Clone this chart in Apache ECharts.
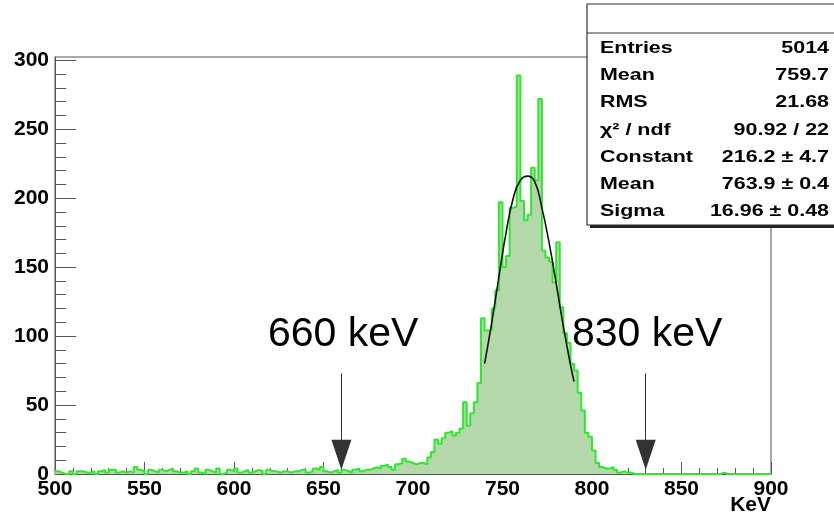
<!DOCTYPE html>
<html>
<head>
<meta charset="utf-8">
<script src="https://cdn.jsdelivr.net/npm/echarts@6/dist/echarts.min.js"></script>
<style>
  html, body { margin: 0; padding: 0; background: #fff; }
  #chart { width: 834px; height: 519px; }
</style>
</head>
<body>
<div id="chart"></div>
<script>
// histogram: 2 keV bins from 500 to 900 keV
var binStart = 500, binWidth = 2;
var counts = [
  2,1,0,0,2,0,2,2,1,1,      // 500
  2,0,2,3,1,3,3,1,2,1,      // 520
  2,1,5,3,2,0,3,2,1,3,      // 540
  2,3,4,2,1,1,2,0,2,4,      // 560
  1,0,3,2,1,4,0,1,3,2,      // 580
  4,1,2,3,1,2,3,2,0,3,      // 600
  2,2,1,2,2,1,2,2,3,3,      // 620
  1,2,4,3,5,2,1,2,3,1,      // 640
  3,2,1,3,4,2,3,3,4,5,      // 660
  4,6,7,5,3,7,8,11,9,8,     // 680
  7,8,8,7,12,16,25,22,26,30,       // 700
  31,28,30,33,52,35,44,52,66,113,  // 720
  104,104,120,133,197,150,158,193,194,289, // 740
  198,184,188,222,213,272,162,157,154,139, // 760
  168,121,102,95,80,75,59,46,30,27,        // 780
  17,8,5,4,4,5,3,1,2,1,     // 800
  1,0,0,0,0,0,0,0,0,0,      // 820
  0,0,0,0,0,0,0,0,0,0,      // 840
  0,0,0,0,0,0,1,0,0,0,      // 860
  0,0,0,0,0,0,0,0,0,0       // 880
];
// gaussian fit curve
var fitX = [740, 744, 748, 752, 756, 760, 764, 768, 772, 776, 780, 784, 788, 790];
var fitY = [80, 110, 143, 175, 200, 213, 216, 212, 193, 168, 138, 107, 79, 67];
// arrows
var arrowKeV = [660, 830];
var arrowText = ['660 keV', '830 keV'];
// axis ticks
var yMajor = [0, 50, 100, 150, 200, 250, 300];
var yMinor = [10,20,30,40,60,70,80,90,110,120,130,140,160,170,180,190,210,220,230,240,260,270,280,290];
var yTop = 302.4;
// stats box
var statNames = ['Entries', 'Mean', 'RMS', 'χ² / ndf', 'Constant', 'Mean', 'Sigma'];
var statValues = ['5014', '759.7', '21.68', '90.92 / 22', '216.2 ± 4.7', '763.9 ± 0.4', '16.96 ± 0.48'];

var histData = [];
for (var i = 0; i < counts.length; i++) {
  histData.push([binStart + i * binWidth, counts[i]]);
}
histData.push([binStart + counts.length * binWidth, counts[counts.length - 1]]);

var fitData = fitX.map(function (x, i) { return [x, fitY[i]]; });

var font = '"Liberation Sans", Arial, Helvetica, sans-serif';

var arrowLines = arrowKeV.map(function (k) {
  return [{ coord: [k, 73] }, { coord: [k, 14] }];
});

var graphics = [];
// stats box
var boxX = 587, boxY = 4, boxW = 260, boxH = 221;
graphics.push({ type: 'rect', z: 100, shape: { x: boxX + 3, y: boxY + 3, width: boxW, height: boxH }, style: { fill: '#222' } });
graphics.push({ type: 'rect', z: 101, shape: { x: boxX, y: boxY, width: boxW, height: boxH }, style: { fill: '#fff', stroke: '#333', lineWidth: 1.2 } });
graphics.push({ type: 'line', z: 102, shape: { x1: boxX, y1: 33, x2: 834, y2: 33 }, style: { stroke: '#333', lineWidth: 1.2 } });
for (var r = 0; r < statNames.length; r++) {
  var cy = 48.5 + r * 27.2;
  graphics.push({ type: 'text', z: 103, x: 600, y: cy, scaleX: 1.3,
    style: { text: statNames[r], fill: '#000', font: 'bold 16.5px ' + font, textAlign: 'left', textVerticalAlign: 'middle' } });
  graphics.push({ type: 'text', z: 103, x: 829, y: cy, scaleX: 1.3,
    style: { text: statValues[r], fill: '#000', font: 'bold 16.5px ' + font, textAlign: 'right', textVerticalAlign: 'middle' } });
}
// big annotations
graphics.push({ type: 'text', z: 90, x: 268, y: 335, style: { text: arrowText[0], fill: '#000', font: '41px ' + font, textVerticalAlign: 'middle' } });
graphics.push({ type: 'text', z: 90, x: 572, y: 335, style: { text: arrowText[1], fill: '#000', font: '41px ' + font, textVerticalAlign: 'middle' } });
// axis title
graphics.push({ type: 'text', z: 90, x: 771, y: 505, style: { text: 'KeV', fill: '#000', font: 'bold 21px ' + font, textAlign: 'right', textVerticalAlign: 'middle' } });

var option = {
  animation: false,
  backgroundColor: '#fff',
  grid: { left: 55, right: 63, top: 57, bottom: 45, show: true, borderColor: '#555', borderWidth: 1, backgroundColor: 'transparent' },
  xAxis: {
    type: 'value', min: 500, max: 900, interval: 50,
    axisLine: { lineStyle: { color: '#555', width: 1 } },
    axisTick: { inside: true, length: 12, lineStyle: { color: '#555' } },
    minorTick: { show: true, splitNumber: 5, length: 6, lineStyle: { color: '#555' } },
    splitLine: { show: false },
    axisLabel: { color: '#000', fontFamily: font, fontWeight: 'bold', fontSize: 21, margin: 5 }
  },
  yAxis: [{
    type: 'value', min: 0, max: yTop, position: 'left',
    axisLine: { show: true, lineStyle: { color: '#555', width: 1 } },
    axisTick: { inside: true, length: 21, customValues: yMajor, lineStyle: { color: '#555' } },
    splitLine: { show: false },
    axisLabel: { customValues: yMajor, color: '#000', fontFamily: font, fontWeight: 'bold', fontSize: 21, margin: 6 }
  }, {
    type: 'value', min: 0, max: yTop, position: 'left', offset: 0,
    axisLine: { show: false },
    axisTick: { show: true, inside: true, length: 11, customValues: yMinor, lineStyle: { color: '#555' } },
    splitLine: { show: false },
    axisLabel: { show: false }
  }],
  series: [{
    name: 'hist', type: 'line', step: 'end', data: histData,
    showSymbol: false, silent: true,
    lineStyle: { color: '#2ee82e', width: 2 },
    areaStyle: { color: '#b4d8a9', opacity: 1 },
    z: 2
  }, {
    name: 'fit', type: 'line', data: fitData, smooth: true,
    showSymbol: false, silent: true,
    lineStyle: { color: '#111', width: 1.6 },
    z: 3,
    markLine: {
      silent: true, animation: false,
      symbol: ['none', 'triangle'], symbolSize: [20, 30],
      label: { show: false },
      lineStyle: { color: '#333', width: 1, type: 'solid' },
      itemStyle: { color: '#000' },
      data: arrowLines
    }
  }],
  graphic: graphics
};

var chart = echarts.init(document.getElementById('chart'));
chart.setOption(option);
</script>
</body>
</html>
